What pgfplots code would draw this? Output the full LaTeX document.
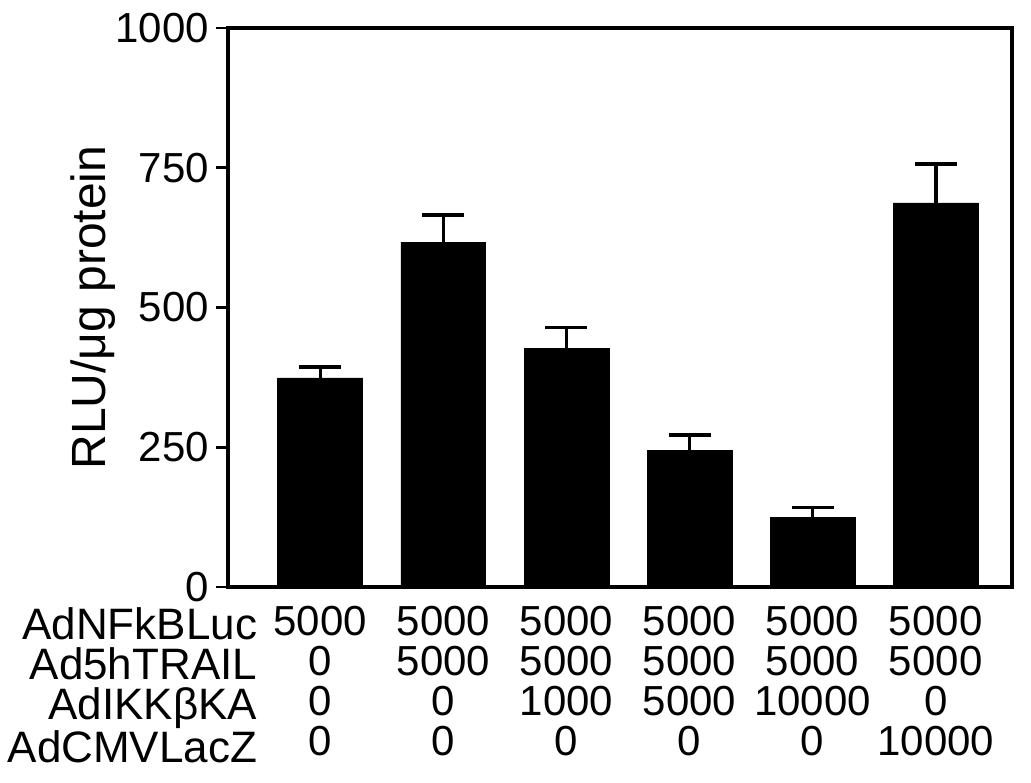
\documentclass[border=0pt]{standalone}
\usepackage{pgfplots}
\pgfplotsset{compat=1.18}
\usepackage{fontspec}
\setmainfont{Liberation Sans}
\begin{document}
\begin{tikzpicture}
\begin{axis}[
  scale only axis, width=392pt, height=279.5pt,
  xmin=-0.75, xmax=5.62, ymin=0, ymax=1000,
  axis line style={line width=1.6pt},
  ybar, bar width=0.69,
  ytick={0,250,500,750,1000},
  ytick pos=left, ytick align=outside,
  major tick length=6pt,
  y tick style={line width=1.4pt, black},
  xtick={0,1,2,3,4,5},
  x tick style={draw=none},
  xticklabels={{5000\\0\\0\\0},{5000\\5000\\0\\0},{5000\\5000\\1000\\0},{5000\\5000\\5000\\0},{5000\\5000\\10000\\0},{5000\\5000\\0\\10000}},
  xticklabel style={align=center, font=\fontsize{21}{20}\selectfont},
  yticklabel style={font=\fontsize{21}{24}\selectfont},
  /pgf/number format/assume math mode=true,
  /pgf/number format/1000 sep={},
  ylabel={RLU/μg protein},
  every axis y label/.style={at={(axis description cs:-0.172,0.5)}, rotate=90, anchor=center, font=\fontsize{24}{28}\selectfont},
  clip=false,
]
\addplot[fill=black, draw=black,
  error bars/.cd, y dir=plus, y explicit,
  error bar style={line width=1.8pt, black},
  error mark options={rotate=90, mark size=10.5pt, line width=1.8pt, black}]
  table[x=x, y=y, y error=e] {
x y e
0 374 20
1 617 48
2 426 38
3 245 27
4 124 18
5 687 70
};
\node[anchor=north east, align=right, inner xsep=0pt, yshift=-7pt, font=\fontsize{22}{20}\selectfont] at (axis cs:-0.51,0) {AdNFkBLuc\\Ad5hTRAIL\\AdIKKβKA\\AdCMVLacZ};
\coordinate (bbl) at (rel axis cs:-0.2908,-0.3488);
\coordinate (btr) at (rel axis cs:1.0242,1.0501);
\end{axis}
\pgfresetboundingbox
\path (bbl) rectangle (btr);
\end{tikzpicture}
\end{document}
